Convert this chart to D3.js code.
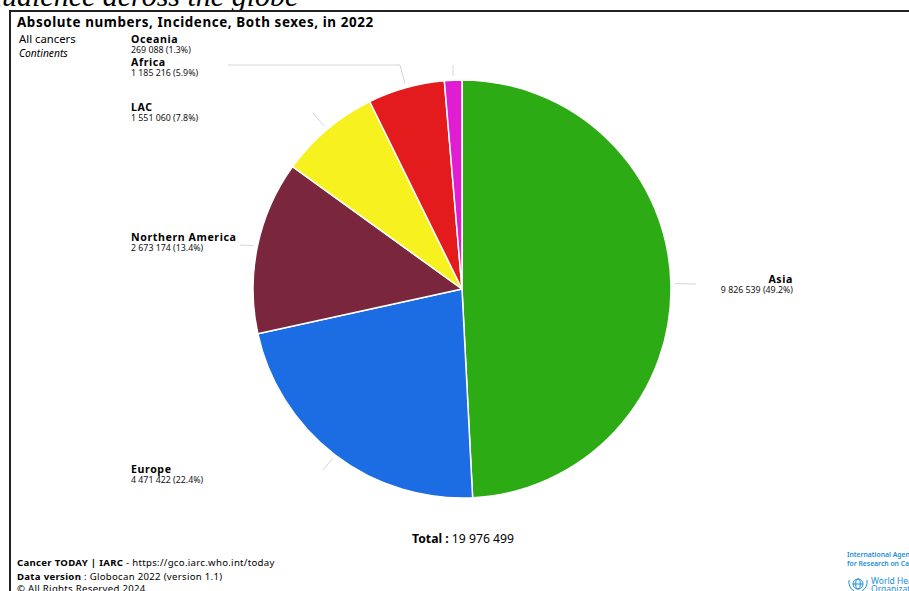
<!DOCTYPE html>
<html>
<head>
<meta charset="utf-8">
<script src="https://cdn.jsdelivr.net/npm/d3@7"></script>
<style>
  html, body { margin: 0; padding: 0; background: #fff; }
  svg { display: block; }
  text { font-family: "Noto Sans", "Open Sans", sans-serif; }
</style>
</head>
<body>
<svg id="chart" width="909" height="591"></svg>
<script>
// Cancer incidence by continent, both sexes, 2022 (Globocan 2022)
const continents = ["Asia", "Europe", "Northern America", "LAC", "Africa", "Oceania"];
const cases      = [9826539, 4471422, 2673174, 1551060, 1185216, 269088];
const shares     = ["49.2%", "22.4%", "13.4%", "7.8%", "5.9%", "1.3%"];
const sliceColors = ["#2dab14", "#1c6ce4", "#7a263c", "#f6f11f", "#e41b1c", "#e11dd1"];
const totalCases = 19976499;

const fmt = n => d3.format(",")(n).replace(/,/g, " ");

const svg = d3.select("#chart");
const W = 909, H = 591;

// page heading cut off above the frame
svg.append("text")
  .attr("x", -13).attr("y", 6)
  .style("font-family", "'Liberation Serif', 'DejaVu Serif', serif")
  .style("font-style", "italic")
  .style("font-size", "30px")
  .attr("fill", "#000")
  .text("audience across the globe");

// frame
svg.append("rect")
  .attr("x", 10).attr("y", 11).attr("width", W + 20).attr("height", H + 20)
  .attr("fill", "#fff").attr("stroke", "#222").attr("stroke-width", 2);

// header
svg.append("text").attr("x", 17).attr("y", 27)
  .style("font-weight", "700").style("font-size", "13.4px").style("letter-spacing", "0.6px")
  .text("Absolute numbers, Incidence, Both sexes, in 2022");
svg.append("text").attr("x", 19).attr("y", 43)
  .style("font-size", "11.3px").text("All cancers");
svg.append("text").attr("x", 19).attr("y", 57)
  .style("font-size", "10.3px").style("font-style", "italic").text("Continents");

// pie
const cx = 462, cy = 289, R = 209;
const data = continents.map((c, i) => ({ name: c, value: cases[i], share: shares[i], color: sliceColors[i] }));
const pie = d3.pie().sort(null).value(d => d.value).startAngle(0).endAngle(2 * Math.PI);
const arcs = pie(data);
const arc = d3.arc().innerRadius(0).outerRadius(R);

const g = svg.append("g").attr("transform", `translate(${cx},${cy})`);
g.selectAll("path.slice").data(arcs).join("path")
  .attr("class", "slice")
  .attr("d", arc)
  .attr("fill", d => d.data.color)
  .attr("stroke", "#fff")
  .attr("stroke-width", 1.5)
  .attr("stroke-linejoin", "round");

// label placement: where each connector bends and where the text block sits
const labelLayout = {
  "Asia":             { bend: [696, 284], end: [696, 284], tx: 793, ty: 283, anchor: "end" },
  "Europe":           { bend: [323, 470], end: [323, 470], tx: 131, ty: 473, anchor: "start" },
  "Northern America": { bend: [240, 245], end: [240, 245], tx: 131, ty: 241, anchor: "start" },
  "LAC":              { bend: [313, 113], end: [313, 113], tx: 131, ty: 111, anchor: "start" },
  "Africa":           { bend: [400, 65],  end: [228, 65],  tx: 131, ty: 66,  anchor: "start" },
  "Oceania":          { bend: [453, 65],  end: [453, 65],  tx: 131, ty: 43,  anchor: "start" }
};

arcs.forEach(a => {
  const L = labelLayout[a.data.name];
  const mid = (a.startAngle + a.endAngle) / 2;
  const sx = cx + (R + 4) * Math.sin(mid);
  const sy = cy - (R + 4) * Math.cos(mid);
  svg.append("path")
    .attr("d", d3.line()([[sx, sy], L.bend, L.end]))
    .attr("fill", "none")
    .attr("stroke", "#d6d6d6")
    .attr("stroke-width", 1);

  const t = svg.append("text").attr("text-anchor", L.anchor);
  t.append("tspan").attr("x", L.tx).attr("y", L.ty)
    .style("font-weight", "700").style("font-size", "10.6px").style("letter-spacing", "0.6px")
    .text(a.data.name);
  t.append("tspan").attr("x", L.tx).attr("y", L.ty + 10)
    .style("font-size", "8.8px").attr("fill", "#111")
    .text(`${fmt(a.data.value)} (${a.data.share})`);
});

// total
const tot = svg.append("text").attr("x", 463).attr("y", 543).attr("text-anchor", "middle")
  .style("font-size", "12.2px");
tot.append("tspan").style("font-weight", "700").text("Total : ");
tot.append("tspan").text(fmt(totalCases));

// footer
const footer = svg.append("g").style("font-size", "9.6px").style("letter-spacing", "0.3px");
const f1 = footer.append("text").attr("x", 17).attr("y", 566);
f1.append("tspan").style("font-weight", "700").text("Cancer TODAY | IARC");
f1.append("tspan").text(" - https://gco.iarc.who.int/today");
const f2 = footer.append("text").attr("x", 17).attr("y", 580);
f2.append("tspan").style("font-weight", "700").text("Data version");
f2.append("tspan").text(" : Globocan 2022 (version 1.1)");
footer.append("text").attr("x", 17).attr("y", 592)
  .text("© All Rights Reserved 2024");

// agency marks
const blue = "#1a8fd6";
svg.append("text").attr("x", 847).attr("y", 557).attr("fill", blue)
  .style("font-size", "6.8px").style("font-weight", "600").text("International Agency");
svg.append("text").attr("x", 847).attr("y", 566).attr("fill", blue)
  .style("font-size", "6.8px").style("font-weight", "600").text("for Research on Cancer");
const emb = svg.append("g").attr("transform", "translate(858,584)")
  .attr("fill", "none").attr("stroke", blue).attr("stroke-width", 1);
emb.append("circle").attr("r", 5);
emb.append("ellipse").attr("rx", 2.3).attr("ry", 5);
emb.append("line").attr("x1", -5).attr("x2", 5);
emb.append("path").attr("d", "M-9,-4 Q-10,3 -4,7 M9,-4 Q10,3 4,7");
svg.append("text").attr("x", 871).attr("y", 584).attr("fill", blue)
  .style("font-size", "8.5px").text("World Health");
svg.append("text").attr("x", 871).attr("y", 592).attr("fill", blue)
  .style("font-size", "8.5px").text("Organization");
</script>
</body>
</html>
